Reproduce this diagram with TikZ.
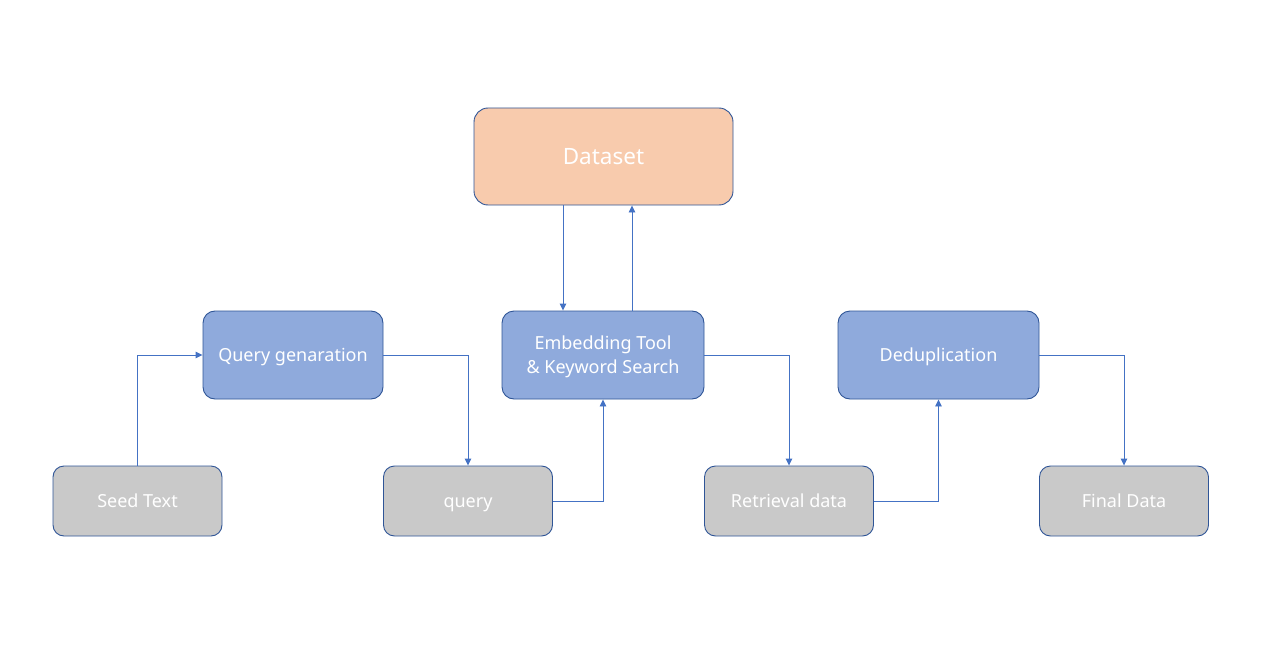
\documentclass[tikz,border=0pt]{standalone}
\usepackage{fontspec}
\setmainfont{Noto Sans}
\usetikzlibrary{arrows.meta}
\definecolor{borderc}{HTML}{2F5597}
\definecolor{arrowc}{HTML}{4472C4}
\definecolor{orangef}{HTML}{F8CBAD}
\definecolor{bluef}{HTML}{8FAADC}
\definecolor{grayf}{HTML}{C9C9C9}
\tikzset{
  base/.style={draw=borderc, line width=0.9pt, rounded corners=12pt, text=white, inner sep=0pt, font=\fontsize{18}{24}\selectfont},
  box/.style={base, text height=13pt, text depth=0pt},
  bluebox/.style={fill=bluef, minimum height=88pt},
  graybox/.style={box, fill=grayf, minimum width=169pt, minimum height=70pt, rounded corners=11pt},
  conn/.style={draw=arrowc, line width=0.9pt, -{Triangle[length=7pt,width=6.5pt]}},
}
\begin{document}
\begin{tikzpicture}[x=1pt,y=-1pt]
\useasboundingbox (0,0) rectangle (1261,666);
\node[box, fill=orangef, minimum width=259pt, minimum height=97pt, rounded corners=14pt, text height=16pt, font=\fontsize{22.5}{27}\selectfont] (ds) at (603.5,156.5) {Dataset};
\node[box, bluebox, minimum width=180pt] (qg) at (293,355) {Query genaration};
\node[base, bluebox, minimum width=202pt, label={[text=white, align=center, inner sep=0pt, font=\fontsize{18}{24}\selectfont, yshift=-2pt]center:Embedding Tool\\\& Keyword Search}] (emb) at (603,355) {};
\node[box, bluebox, minimum width=201pt] (dd) at (938.5,355) {Deduplication};
\node[graybox] (st) at (137.5,501) {Seed Text};
\node[graybox] (q) at (468,501) {query};
\node[graybox] (rd) at (789,501) {Retrieval data};
\node[graybox] (fd) at (1124,501) {Final Data};
\coordinate (d1) at (563,0);
\coordinate (d2) at (632,0);
\draw[conn] (ds.south -| d1) -- (emb.north -| d1);
\draw[conn] (emb.north -| d2) -- (ds.south -| d2);
\draw[conn] (st.north) |- (qg.west);
\draw[conn] (qg.east) -| (q.north);
\draw[conn] (q.east) -| (emb.south);
\draw[conn] (emb.east) -| (rd.north);
\draw[conn] (rd.east) -| (dd.south);
\draw[conn] (dd.east) -| (fd.north);
\end{tikzpicture}
\end{document}
